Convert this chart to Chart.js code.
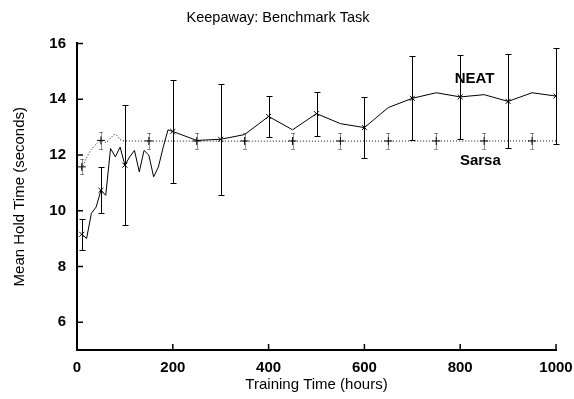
<!DOCTYPE html>
<html><head><meta charset="utf-8">
<script src="https://cdn.jsdelivr.net/npm/chart.js@4.4.0/dist/chart.umd.min.js"></script>
<style>html,body{margin:0;padding:0;background:#fff}#wrap{width:574px;height:399px}</style>
</head><body><div id="wrap"><canvas id="c" width="574" height="399"></canvas></div>
<script>
// ---- data ----
const neatHours = [10,20,30,40,50,60,70,80,90,100,110,120,130,140,150,160,170,180,190,200,250,300,350,400,450,500,550,600,650,700,750,800,850,900,950,1000];
const neatMeans = [9.15,9.0,9.9,10.13,10.73,10.55,12.23,11.93,12.28,11.63,11.93,12.16,11.39,12.16,11.99,11.21,11.57,12.28,12.9,12.84,12.52,12.56,12.73,13.38,12.9,13.48,13.12,12.98,13.7,14.03,14.23,14.08,14.16,13.92,14.23,14.11];
const neatBarHours = [10,50,100,200,300,400,500,600,700,800,900,1000];
const neatBarMeans = [9.15,10.73,11.63,12.84,12.56,13.38,13.48,12.98,14.03,14.08,13.92,14.11];
const neatBarErr = [0.55,0.82,2.15,1.84,2.0,0.73,0.79,1.09,1.51,1.5,1.69,1.72];

const sarsaHours = [10,20,30,40,50,60,70,80,90,100,1000];
const sarsaMeans = [11.5,11.9,12.2,12.38,12.52,12.45,12.6,12.74,12.55,12.5,12.5];
const sarsaBarHours = [10,50,150,250,350,450,550,650,750,850,950];
const sarsaBarMeans = [11.57,12.52,12.5,12.5,12.5,12.5,12.5,12.5,12.5,12.5,12.5];
const sarsaBarErr = [0.27,0.3,0.3,0.3,0.3,0.3,0.3,0.3,0.3,0.3,0.3];

const xTicks = [0,200,400,600,800,1000];
const yTicks = [6,8,10,12,14,16];

const seriesLabels = [
  {text:'NEAT', x:830, y:14.72},
  {text:'Sarsa', x:842, y:11.78}
];

const FONT = "'Liberation Sans', Arial, Helvetica, sans-serif";
const pts = (xs, ys) => xs.map((x,i)=>({x, y: ys[i]}));

const errorBars = {
  id: 'errorBars',
  afterDatasetsDraw(chart) {
    const {ctx, scales:{x, y}} = chart;
    const draw = (hs, ms, es, dash, color, cap) => {
      ctx.save();
      ctx.strokeStyle = color; ctx.lineWidth = 1;
      ctx.setLineDash(dash);
      hs.forEach((h,i)=>{
        const px = Math.round(x.getPixelForValue(h)) + 0.5;
        const top = Math.round(y.getPixelForValue(ms[i] + es[i])) + 0.5;
        const bot = Math.round(y.getPixelForValue(ms[i] - es[i])) + 0.5;
        ctx.beginPath();
        ctx.moveTo(px, top); ctx.lineTo(px, bot);
        ctx.moveTo(px-cap, top); ctx.lineTo(px+cap, top);
        ctx.moveTo(px-cap, bot); ctx.lineTo(px+cap, bot);
        ctx.stroke();
      });
      ctx.restore();
    };
    draw(neatBarHours, neatBarMeans, neatBarErr, [], '#000', 3);
    draw(sarsaBarHours, sarsaBarMeans, sarsaBarErr, [1,1], '#222', 2);
  }
};

const inwardTicks = {
  id: 'inwardTicks',
  afterDraw(chart) {
    const {ctx, chartArea:a, scales:{x, y}} = chart;
    ctx.save();
    ctx.strokeStyle = '#000'; ctx.lineWidth = 1.5;
    ctx.beginPath();
    xTicks.forEach(v=>{ const p = x.getPixelForValue(v); ctx.moveTo(p, a.bottom); ctx.lineTo(p, a.bottom-6); });
    yTicks.forEach(v=>{ const p = y.getPixelForValue(v); ctx.moveTo(a.left, p); ctx.lineTo(a.left+6, p); });
    ctx.stroke();
    ctx.fillStyle = '#000';
    ctx.font = 'bold 15px ' + FONT;
    ctx.textAlign = 'center'; ctx.textBaseline = 'middle';
    seriesLabels.forEach(l=> ctx.fillText(l.text, x.getPixelForValue(l.x), y.getPixelForValue(l.y)));
    ctx.restore();
  }
};

new Chart(document.getElementById('c'), {
  type: 'scatter',
  data: {
    datasets: [
      {label:'NEAT', data: pts(neatHours, neatMeans), showLine:true, borderColor:'#000', borderWidth:1, pointRadius:0, fill:false, tension:0},
      {label:'NEAT points', data: pts(neatBarHours, neatBarMeans), showLine:false, pointStyle:'crossRot', pointRadius:3.5, borderColor:'#000', borderWidth:1},
      {label:'Sarsa', data: pts(sarsaHours, sarsaMeans), showLine:true, borderColor:'#111', borderWidth:1, borderDash:[1,2], pointRadius:0, fill:false, tension:0.3},
      {label:'Sarsa points', data: pts(sarsaBarHours, sarsaBarMeans), showLine:false, pointStyle:'cross', pointRadius:4, borderColor:'#000', borderWidth:1}
    ]
  },
  options: {
    responsive:false, animation:false, devicePixelRatio:1,
    layout:{padding:{left:0, right:18, top:0, bottom:0}},
    plugins:{
      legend:{display:false}, tooltip:{enabled:false},
      title:{display:true, text:'Keepaway: Benchmark Task', color:'#000',
        font:{family:FONT, size:14.5, weight:'normal'}, padding:{top:9, bottom:17}}
    },
    scales:{
      x:{type:'linear', min:0, max:1000,
        afterBuildTicks: s => { s.ticks = xTicks.map(v=>({value:v})); },
        afterFit: s => { s.height = 49; s.paddingRight = 0; s.paddingLeft = 0; },
        grid:{display:false, drawTicks:false},
        border:{display:true, color:'#000', width:2},
        ticks:{color:'#000', padding:9, maxRotation:0, callback: v => String(v), font:{family:FONT, size:15, weight:'bold'}},
        title:{display:true, text:'Training Time (hours)', color:'#000', font:{family:FONT, size:15}, padding:{top:0, bottom:5}}
      },
      y:{type:'linear', min:5, max:16,
        afterBuildTicks: s => { s.ticks = yTicks.map(v=>({value:v})); },
        afterFit: s => { s.width = 77; },
        grid:{display:false, drawTicks:false},
        border:{display:true, color:'#000', width:2},
        ticks:{color:'#000', padding:11, callback: v => String(v), font:{family:FONT, size:15, weight:'bold'}},
        title:{display:true, text:'Mean Hold Time (seconds)', color:'#000', font:{family:FONT, size:15}, padding:{top:11, bottom:0}}
      }
    }
  },
  plugins:[errorBars, inwardTicks]
});
</script></body></html>
